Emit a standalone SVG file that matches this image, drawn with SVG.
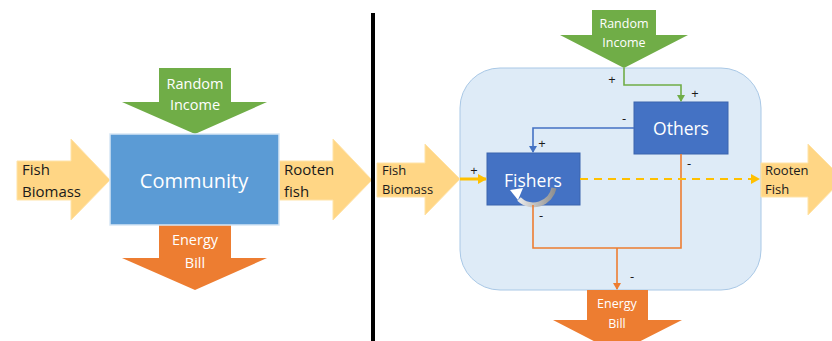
<svg xmlns="http://www.w3.org/2000/svg" width="832" height="341" viewBox="0 0 832 341">
  <defs>
    <style>
      text { font-family: "Open Sans", "Noto Sans", "Liberation Sans", sans-serif; }
      .fish { fill: #FFD685; stroke: #FFE3A8; stroke-width: 1; }
      .income { fill: #70AD47; }
      .bill { fill: #ED7D31; }
      .wt { fill: #FFFFFF; text-anchor: middle; }
      .bk { fill: #1A1A1A; }
      .sign { fill: #1A1A1A; font-size: 13px; text-anchor: middle; }
      .box { fill: #4472C4; stroke: #3A64AE; stroke-width: 1; }
      .link { fill: none; stroke-width: 1.6; }
    </style>
    <marker id="ahGreen" markerWidth="8" markerHeight="8" refX="6" refY="4" orient="auto" markerUnits="userSpaceOnUse">
      <path d="M0,0 L7,4 L0,8 Z" fill="#70AD47"/>
    </marker>
    <marker id="ahBlue" markerWidth="8" markerHeight="8" refX="6" refY="4" orient="auto" markerUnits="userSpaceOnUse">
      <path d="M0,0 L7,4 L0,8 Z" fill="#4472C4"/>
    </marker>
    <marker id="ahOrange" markerWidth="8" markerHeight="8" refX="6" refY="4" orient="auto" markerUnits="userSpaceOnUse">
      <path d="M0,0 L7,4 L0,8 Z" fill="#ED7D31"/>
    </marker>
    <marker id="ahYellow" markerWidth="10" markerHeight="10" refX="8" refY="5" orient="auto" markerUnits="userSpaceOnUse">
      <path d="M0,0 L9,5 L0,10 Z" fill="#FFC000"/>
    </marker>
    <linearGradient id="loopGrad" gradientUnits="userSpaceOnUse" x1="510" y1="0" x2="556" y2="0">
      <stop offset="0" stop-color="#FFFFFF"/>
      <stop offset="1" stop-color="#8C8C8C"/>
    </linearGradient>
  </defs>

  <rect width="832" height="341" fill="#FFFFFF"/>

  <!-- Aggregate view -->
  <g id="left-fish-biomass">
    <polygon class="fish" points="17,161 71,161 71,139 110,180 71,220 71,200 17,200"/>
    <text class="bk" font-size="15" x="22" y="175">Fish</text>
    <text class="bk" font-size="15" x="22" y="197">Biomass</text>
  </g>
  <g id="left-rooten-fish">
    <polygon class="fish" points="279,161 333,161 333,139 372,180 333,220 333,200 279,200"/>
    <text class="bk" font-size="15" x="284" y="175">Rooten</text>
    <text class="bk" font-size="15" x="284" y="197">fish</text>
  </g>
  <g id="left-random-income">
    <polygon class="income" points="159,68 231,68 231,102 267,102 195,134 122,102 159,102"/>
    <text class="wt" font-size="14.5" x="195" y="89">Random</text>
    <text class="wt" font-size="14.5" x="195" y="110">Income</text>
  </g>
  <g id="left-energy-bill">
    <polygon class="bill" points="159,225 231,225 231,258 267,258 195,290 122,258 159,258"/>
    <text class="wt" font-size="14.5" x="195" y="245">Energy</text>
    <text class="wt" font-size="14.5" x="195" y="268">Bill</text>
  </g>
  <g id="community">
    <rect x="110" y="134" width="169" height="91" fill="#5B9BD5" stroke="#D6E6F5" stroke-width="1.5"/>
    <text class="wt" font-size="20" x="194" y="188">Community</text>
  </g>

  <!-- Divider -->
  <rect x="371" y="13" width="4" height="328" fill="#000000"/>

  <!-- Detailed view -->
  <g id="system-boundary">
    <rect x="460" y="68" width="301" height="222" rx="40" ry="40" fill="#DEEBF7" stroke="#A9C8E6" stroke-width="1"/>
  </g>
  <g id="right-fish-biomass">
    <polygon class="fish" points="377,163 425,163 425,144 460,179 425,215 425,197 377,197"/>
    <text class="bk" font-size="13" x="382" y="175">Fish</text>
    <text class="bk" font-size="13" x="382" y="194">Biomass</text>
  </g>
  <g id="right-rooten-fish">
    <polygon class="fish" points="761,163 808,163 808,144 843,179 808,215 808,197 761,197"/>
    <text class="bk" font-size="13" x="765" y="175">Rooten</text>
    <text class="bk" font-size="13" x="765" y="194">Fish</text>
  </g>
  <g id="right-random-income">
    <polygon class="income" points="592,10 656,10 656,35 688,35 624,68 560,35 592,35"/>
    <text class="wt" font-size="12.5" x="624" y="28">Random</text>
    <text class="wt" font-size="12.5" x="624" y="47">Income</text>
  </g>
  <g id="right-energy-bill">
    <polygon class="bill" points="587,290 648,290 648,320 682,320 617,353 553,320 587,320"/>
    <text class="wt" font-size="12.5" x="617" y="308">Energy</text>
    <text class="wt" font-size="12.5" x="617" y="328">Bill</text>
  </g>
  <g id="others">
    <rect class="box" x="634" y="102" width="94" height="52"/>
    <text class="wt" font-size="17.5" x="681" y="135">Others</text>
  </g>
  <g id="fishers">
    <rect class="box" x="487" y="153" width="93" height="52"/>
    <text class="wt" font-size="17.5" x="533" y="187">Fishers</text>
    <!-- self-reinforcing loop -->
    <path d="M554,188 A21,21 0 0 1 519,199" fill="none" stroke="url(#loopGrad)" stroke-width="5"/>
    <polygon points="510,190 523,188 518,200" fill="#FFFFFF"/>
  </g>

  <g id="connectors">
    <polyline class="link" stroke="#70AD47" points="624,68 624,85 681,85 681,101" marker-end="url(#ahGreen)"/>
    <polyline class="link" stroke="#4472C4" points="634,128 533,128 533,152" marker-end="url(#ahBlue)"/>
    <polyline class="link" stroke="#ED7D31" points="533,205 533,248 681,248 681,154"/>
    <line class="link" stroke="#ED7D31" x1="617" y1="248" x2="617" y2="289" marker-end="url(#ahOrange)"/>
    <line x1="460" y1="179" x2="486" y2="179" stroke="#FFC000" stroke-width="3" marker-end="url(#ahYellow)"/>
    <line x1="580" y1="179" x2="759" y2="179" stroke="#FFC000" stroke-width="2" stroke-dasharray="8,6" marker-end="url(#ahYellow)"/>
  </g>

  <g id="signs">
    <text class="sign" x="612" y="84">+</text>
    <text class="sign" x="695" y="98">+</text>
    <text class="sign" x="624" y="123">-</text>
    <text class="sign" x="542" y="148">+</text>
    <text class="sign" x="474" y="175">+</text>
    <text class="sign" x="689" y="168">-</text>
    <text class="sign" x="541" y="220">-</text>
    <text class="sign" x="632" y="281">-</text>
  </g>
</svg>
